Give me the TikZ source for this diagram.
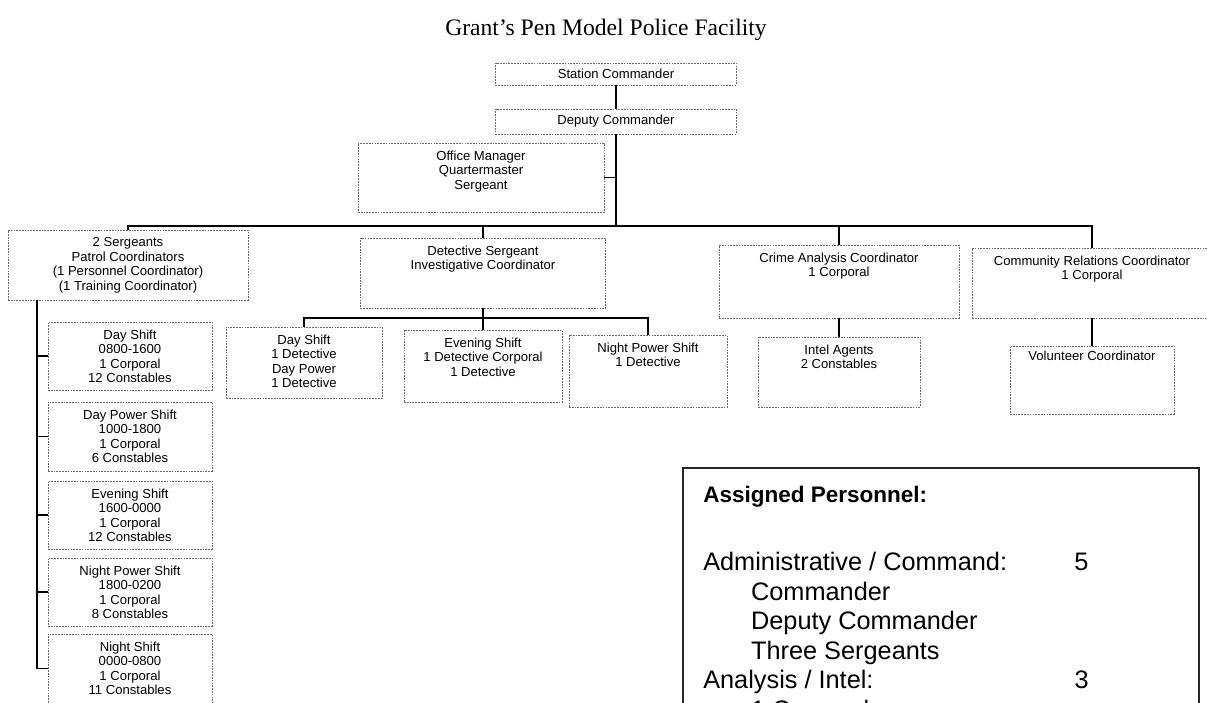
\documentclass[tikz,border=0pt]{standalone}
\usepackage{fontspec}
\setmainfont{Liberation Serif}
\setsansfont{Liberation Sans}
\usepackage{tikz}

\begin{document}
\begin{tikzpicture}[x=0.025cm, y=-0.025cm,
  box/.style={draw=black!60, dash pattern=on 1.2pt off 0.8pt, line width=0.6pt, inner sep=0pt,
    font=\sffamily\fontsize{9.3}{10.4}\selectfont},
  dims/.style 2 args={minimum width=#1*0.025cm, minimum height=#2*0.025cm},
  txt/.style={anchor=north, align=center, inner sep=0pt, yshift=-5.5pt,
    font=\sffamily\fontsize{9.3}{10.4}\selectfont},
  link/.style={black, line width=1pt},
  panel/.style={draw=black!85, line width=1pt, inner sep=0pt}]

\useasboundingbox (0,0) rectangle (1207,702);
\clip (0,0) rectangle (1207,702);

\path (606,30) node[font=\fontsize{16.8}{18}\selectfont] (title) {Grant's Pen Model Police Facility};

%% command chain
\path
(616,74) node[box, dims={241}{22}] (station) {Station Commander}
(616,121.5) node[box, dims={241}{25}] (deputy) {Deputy Commander}
(481,177.5) node[box, dims={246}{69}] (office) {};
\node[txt] (officetxt) at (office.north) {Office Manager\\Quartermaster\\Sergeant};

%% coordinators
\path
(128,265) node[box, dims={240}{70}] (patrol) {}
(483,273) node[box, dims={245}{70}] (detsgt) {}
(839,281.5) node[box, dims={240}{73}] (crime) {}
(1092,283) node[box, dims={240}{70}] (community) {};
\node[txt] (patroltxt) at (patrol.north) {2 Sergeants\\Patrol Coordinators\\(1 Personnel Coordinator)\\(1 Training Coordinator)};
\node[txt] (detsgttxt) at (detsgt.north) {Detective Sergeant\\Investigative Coordinator};
\node[txt] (crimetxt) at (crime.north) {Crime Analysis Coordinator\\1 Corporal};
\node[txt] (communitytxt) at (community.north) {Community Relations Coordinator\\1 Corporal};

%% patrol shifts
\path
(130,356) node[box, dims={164}{68}] (dayshift) {}
(130,436.5) node[box, dims={164}{69}] (daypower) {}
(130,515) node[box, dims={164}{68}] (evening) {}
(130,592) node[box, dims={164}{68}] (nightpower) {}
(130,668.5) node[box, dims={164}{69}] (nightshift) {};
\node[txt] (dayshifttxt) at (dayshift.north) {Day Shift\\0800-1600\\1 Corporal\\12 Constables};
\node[txt] (daypowertxt) at (daypower.north) {Day Power Shift\\1000-1800\\1 Corporal\\6 Constables};
\node[txt] (eveningtxt) at (evening.north) {Evening Shift\\1600-0000\\1 Corporal\\12 Constables};
\node[txt] (nightpowertxt) at (nightpower.north) {Night Power Shift\\1800-0200\\1 Corporal\\8 Constables};
\node[txt] (nightshifttxt) at (nightshift.north) {Night Shift\\0000-0800\\1 Corporal\\11 Constables};

%% detectives, intel, volunteers
\path
(304,362.5) node[box, dims={156}{71}] (daydet) {}
(483,366) node[box, dims={158}{72}] (eveningdet) {}
(648,371) node[box, dims={158}{72}] (nightdet) {}
(839,372) node[box, dims={162}{70}] (intel) {}
(1092,380) node[box, dims={164}{68}] (volunteer) {};
\node[txt] (daydettxt) at (daydet.north) {Day Shift\\1 Detective\\Day Power\\1 Detective};
\node[txt] (eveningdettxt) at (eveningdet.north) {Evening Shift\\1 Detective Corporal\\1 Detective};
\node[txt] (nightdettxt) at (nightdet.north) {Night Power Shift\\1 Detective};
\node[txt] (inteltxt) at (intel.north) {Intel Agents\\2 Constables};
\node[txt, yshift=1.5pt] (volunteertxt) at (volunteer.north) {Volunteer Coordinator};

%% connectors
\coordinate (bus) at (616,226);
\coordinate (detbus) at (483,318);
\coordinate (ptrunk) at (37,300);
\draw[link] (station.south) -- (deputy.north);
\draw[link] (deputy.south) -- (bus);
\draw[link] (office.east) -- (office.east -| deputy.south);
\draw[link] (patrol.north) |- (bus) -| (community.north);
\draw[link] (detsgt.north) -- (detsgt.north |- bus);
\draw[link] (crime.north) -- (crime.north |- bus);
\draw[link] (detsgt.south) -- (eveningdet.north);
\draw[link] (daydet.north) |- (detbus) -| (nightdet.north);
\draw[link] (crime.south) -- (intel.north);
\draw[link] (community.south) -- (volunteer.north);
\draw[link] (ptrunk) |- (nightshift.west);
\draw[link] (dayshift.west) -- (dayshift.west -| ptrunk);
\draw[link] (daypower.west) -- (daypower.west -| ptrunk);
\draw[link] (evening.west) -- (evening.west -| ptrunk);
\draw[link] (nightpower.west) -- (nightpower.west -| ptrunk);

%% personnel summary
\path (941,599) node[panel, dims={516}{262}] (panel) {};
\node[anchor=north west, align=left, inner sep=0pt,
  font=\sffamily\fontsize{18}{21}\selectfont] (personnel) at (703,486) {%
{\fontsize{16}{21}\selectfont\bfseries Assigned Personnel:}\\[27.4pt]
\makebox[264pt][l]{Administrative / Command:}5\\
\hspace*{34pt}Commander\\
\hspace*{34pt}Deputy Commander\\
\hspace*{34pt}Three Sergeants\\
\makebox[264pt][l]{Analysis / Intel:}3\\
\hspace*{34pt}1 Corporal};

\end{tikzpicture}
\end{document}
